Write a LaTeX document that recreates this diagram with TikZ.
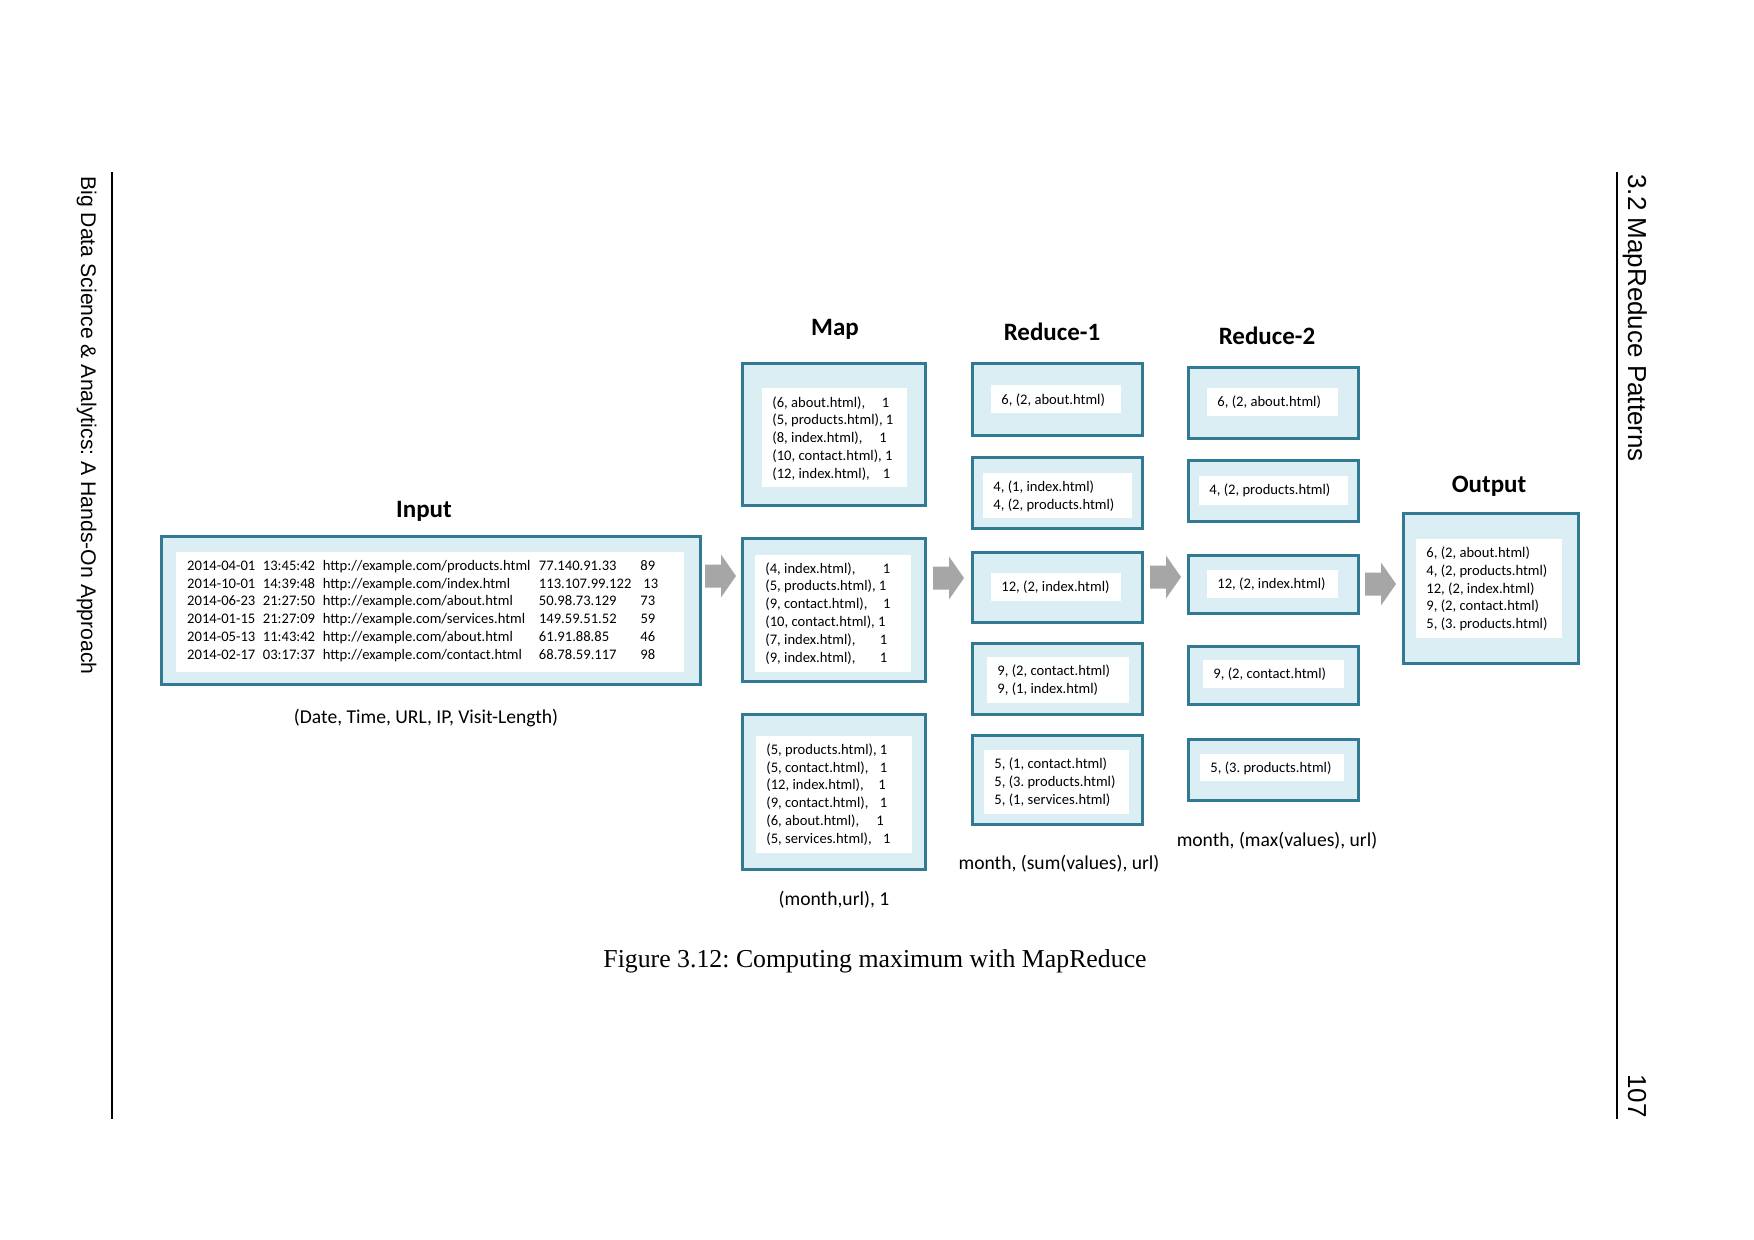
\documentclass[tikz,border=0pt]{standalone}
\usepackage{fontspec}
\setmainfont{Carlito}
\newfontfamily\hdrfont{Liberation Sans}
\newfontfamily\capfont{Liberation Serif}
\definecolor{bordc}{RGB}{50,122,148}
\definecolor{fillc}{RGB}{219,238,244}
\definecolor{arrc}{RGB}{166,166,166}
% outer framed box: name, x1, y1, x2, y2 (pixel coordinates, y down)
\newcommand\obox[5]{\node[outerbox, minimum width={(#4-#2-3)*0.5}, minimum height={(#5-#3-3)*0.5}] (#1) at ({(#2+#4)/2},{(#3+#5)/2}) {};}
\newcommand\ibox[5]{\node[innerbox, minimum width={(#4-#2)*0.5}, minimum height={(#5-#3)*0.5}] (#1) at ({(#2+#4)/2},{(#3+#5)/2}) {};}
\newcommand\blockarrow[2]{\fill[arrc] (#1,{#2-11.5}) -- ({#1+16},{#2-11.5}) -- ({#1+16},{#2-21.5}) -- ({#1+31},#2) -- ({#1+16},{#2+21.5}) -- ({#1+16},{#2+11.5}) -- (#1,{#2+11.5}) -- cycle;}
\newcommand\kv[2]{\makebox[#2pt][l]{#1}1}
\newcommand\inrow[5]{\makebox[37.85pt][l]{#1}\makebox[30pt][l]{#2}\makebox[108.05pt][l]{#3}\makebox[50.75pt][l]{#4}#5}
\frenchspacing
\begin{document}
\begin{tikzpicture}[x=0.5pt,y=-0.5pt,
  outerbox/.style={rectangle, draw=bordc, fill=fillc, line width=1.5pt, inner sep=0pt},
  innerbox/.style={rectangle, fill=white, draw=none, inner sep=0pt},
  boxtext/.style={anchor=west, align=left, inner sep=0pt, font=\fontsize{7.3}{8.9}\selectfont},
  lbl/.style={inner sep=0pt, font=\fontsize{12.5}{15}\selectfont\bfseries},
  sublbl/.style={inner sep=0pt, font=\fontsize{9.8}{12}\selectfont},
  hdr/.style={rotate=-90, inner sep=0pt},
  rule/.style={line width=0.8pt, black}]
\fill[white] (0,0) rectangle (1754,1240);
\useasboundingbox (0,0) rectangle (1754,1240);

% page furniture
\draw[rule] (112,172) -- (112,1119);
\draw[rule] (1617,172) -- (1617,1119);
\node[hdr, anchor=base west, font=\hdrfont\fontsize{10.6}{13}\selectfont] (lefthdr) at (81,176) {Big Data Science \& Analytics: A Hands-On Approach};
\node[hdr, anchor=base west, font=\hdrfont\fontsize{13}{15}\selectfont] (righthdr) at (1628,174) {3.2 MapReduce Patterns};
\node[hdr, anchor=base east, font=\hdrfont\fontsize{13}{15}\selectfont] (pagenum) at (1628,1118) {107};
\node[anchor=base, inner sep=0pt, font=\capfont\fontsize{12.9}{15}\selectfont] (caption) at (875,967) {Figure 3.12: Computing maximum with MapReduce};

% Input
\obox{inputbox}{160}{535}{702}{686}
\ibox{inputin}{176}{552}{684}{672}
\node[boxtext] (inputtext) at (186.8,611) {%
\inrow{2014-04-01}{13:45:42}{http://example.com/products.html}{77.140.91.33}{89}\\
\inrow{2014-10-01}{14:39:48}{http://example.com/index.html}{113.107.99.122}{\hspace{1.5pt}13}\\
\inrow{2014-06-23}{21:27:50}{http://example.com/about.html}{50.98.73.129}{73}\\
\inrow{2014-01-15}{21:27:09}{http://example.com/services.html}{149.59.51.52}{59}\\
\inrow{2014-05-13}{11:43:42}{http://example.com/about.html}{61.91.88.85}{46}\\
\inrow{2014-02-17}{03:17:37}{http://example.com/contact.html}{68.78.59.117}{98}};
\node[lbl] (inputlbl) at (424,511) {Input};
\node[sublbl] (inputsub) at (426,718) {(Date, Time, URL, IP, Visit-Length)};

% Map
\obox{mapA}{741}{362}{927}{507}
\ibox{mapAin}{762}{388}{907}{487}
\node[boxtext] (mapAtext) at (772,438.3) {\kv{(6, about.html),}{54.7}\\(5, products.html), 1\\\kv{(8, index.html),}{53.5}\\(10, contact.html), 1\\\kv{(12, index.html),}{55.3}};
\obox{mapB}{741}{537}{927}{683}
\ibox{mapBin}{755}{555}{911}{672}
\node[boxtext] (mapBtext) at (765,613.3) {\kv{(4, index.html),}{58.8}\\(5, products.html), 1\\\kv{(9, contact.html),}{58.8}\\(10, contact.html), 1\\\kv{(7, index.html),}{57.2}\\\kv{(9, index.html),}{57.2}};
\obox{mapC}{741}{713}{927}{871}
\ibox{mapCin}{756}{736}{912}{853}
\node[boxtext] (mapCtext) at (766,794.5) {(5, products.html), 1\\\kv{(5, contact.html),}{56.7}\\\kv{(12, index.html),}{56}\\\kv{(9, contact.html),}{56.7}\\\kv{(6, about.html),}{55}\\\kv{(5, services.html),}{58.3}};
\node[lbl] (maplbl) at (835,329) {Map};
\node[sublbl] (mapsub) at (834,900) {(month,url), 1};

% Reduce-1
\obox{rA}{971}{362}{1144}{437}
\ibox{rAin}{991}{385}{1121}{413}
\node[boxtext] (rAtext) at (1001,400) {6, (2, about.html)};
\obox{rB}{971}{456}{1144}{530}
\ibox{rBin}{983}{473}{1132}{518}
\node[boxtext] (rBtext) at (993,496.3) {4, (1, index.html)\\4, (2, products.html)};
\obox{rC}{971}{551}{1144}{624}
\ibox{rCin}{991}{573}{1121}{601}
\node[boxtext] (rCtext) at (1001,587.3) {12, (2, index.html)};
\obox{rD}{971}{642}{1144}{716}
\ibox{rDin}{987}{657}{1129}{703}
\node[boxtext] (rDtext) at (997,680.2) {9, (2, contact.html)\\9, (1, index.html)};
\obox{rE}{971}{734}{1144}{826}
\ibox{rEin}{984}{750}{1129}{814}
\node[boxtext] (rEtext) at (994,782.3) {5, (1, contact.html)\\5, (3. products.html)\\5, (1, services.html)};
\node[lbl] (r1lbl) at (1052,332) {Reduce-1};
\node[sublbl] (r1sub) at (1059,864) {month, (sum(values), url)};

% Reduce-2
\obox{sA}{1187}{366}{1360}{440}
\ibox{sAin}{1207}{388}{1338}{416}
\node[boxtext] (sAtext) at (1217,402) {6, (2, about.html)};
\obox{sB}{1187}{459}{1360}{523}
\ibox{sBin}{1199}{476}{1348}{505}
\node[boxtext] (sBtext) at (1209,490.4) {4, (2, products.html)};
\obox{sC}{1187}{554}{1360}{615}
\ibox{sCin}{1207}{570}{1338}{598}
\node[boxtext] (sCtext) at (1217,584.3) {12, (2, index.html)};
\obox{sD}{1187}{645}{1360}{706}
\ibox{sDin}{1203}{660}{1344}{688}
\node[boxtext] (sDtext) at (1213,674.3) {9, (2, contact.html)};
\obox{sE}{1187}{738}{1360}{802}
\ibox{sEin}{1200}{754}{1344}{781}
\node[boxtext] (sEtext) at (1210,768.2) {5, (3. products.html)};
\node[lbl] (r2lbl) at (1267,336) {Reduce-2};
\node[sublbl] (r2sub) at (1277,841) {month, (max(values), url)};

% Output
\obox{outbox}{1402}{512}{1580}{665}
\ibox{outin}{1416}{539}{1562}{638}
\node[boxtext] (outtext) at (1426,589) {6, (2, about.html)\\4, (2, products.html)\\12, (2, index.html)\\9, (2, contact.html)\\5, (3. products.html)};
\node[lbl] (outlbl) at (1489,486) {Output};

% block arrows between stages
\blockarrow{705}{576}
\blockarrow{933}{578}
\blockarrow{1150}{577}
\blockarrow{1365}{584}
\end{tikzpicture}
\end{document}
